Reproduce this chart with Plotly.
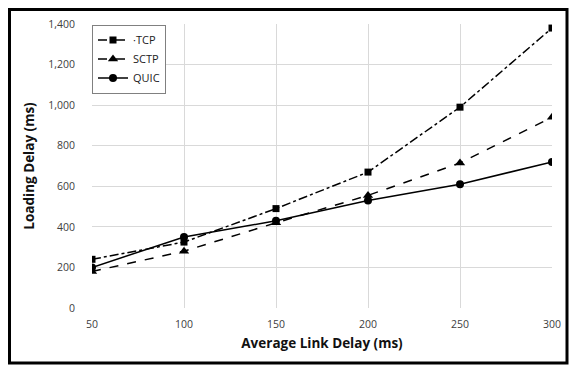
import plotly.graph_objects as go

x_vals = [50, 100, 150, 200, 250, 300]
tcp = [240, 325, 490, 670, 990, 1380]
sctp = [180, 280, 420, 555, 715, 940]
quic = [200, 350, 430, 530, 610, 720]

fig = go.Figure()
fig.add_trace(go.Scatter(x=x_vals, y=tcp, name="\u00b7TCP", mode="lines+markers",
                         line=dict(color="black", width=1.5, dash="dashdot"),
                         marker=dict(symbol="square", size=7, color="black")))
fig.add_trace(go.Scatter(x=x_vals, y=sctp, name="SCTP", mode="lines+markers",
                         line=dict(color="black", width=1.5, dash="dash"),
                         marker=dict(symbol="triangle-up", size=9, color="black")))
fig.add_trace(go.Scatter(x=x_vals, y=quic, name="QUIC", mode="lines+markers",
                         line=dict(color="black", width=1.5),
                         marker=dict(symbol="circle", size=8, color="black")))

W, H = 578, 371
L, R, T, B = 92, 26, 24, 63
pw, ph = W - L - R, H - T - B

def px2paper_x(p):
    return (p - L) / pw

def px2paper_y(p):
    return (H - B - p) / ph

fig.add_shape(type="rect", xref="paper", yref="paper",
              x0=px2paper_x(9.5), x1=px2paper_x(567), y0=px2paper_y(363), y1=px2paper_y(9.5),
              line=dict(color="black", width=3), fillcolor="rgba(0,0,0,0)", layer="above")

fig.update_layout(
    width=W, height=H,
    margin=dict(l=L, r=R, t=T, b=B, autoexpand=False),
    paper_bgcolor="white", plot_bgcolor="white",
    font=dict(family="Open Sans, sans-serif", size=10.5, color="#404040"),
    showlegend=True,
    legend=dict(x=0.0, y=0.998, xanchor="left", yanchor="top",
                bordercolor="#808080", borderwidth=1, bgcolor="white",
                font=dict(size=11, color="#222"), itemwidth=30, tracegroupgap=6),
    xaxis=dict(range=[50, 300], tickvals=x_vals, showgrid=True, gridcolor="#d9d9d9",
               zeroline=False, showline=False, ticks="outside", ticklen=6,
               tickcolor="rgba(0,0,0,0)", automargin=False,
               title=dict(text="<b>Average Link Delay (ms)</b>", font=dict(size=13.5, color="#111"), standoff=8)),
    yaxis=dict(range=[0, 1400], dtick=200, tickformat=",", showgrid=True, gridcolor="#d9d9d9",
               zeroline=False, showline=False, ticks="outside", ticklen=14,
               tickcolor="rgba(0,0,0,0)", automargin=False,
               title=dict(text="<b>Loading Delay (ms)</b>", font=dict(size=13.5, color="#111"), standoff=10)),
)

fig.write_html("out.html", config={"displayModeBar": False},
               post_script="document.body.style.margin='0';document.body.style.overflow='hidden';")
